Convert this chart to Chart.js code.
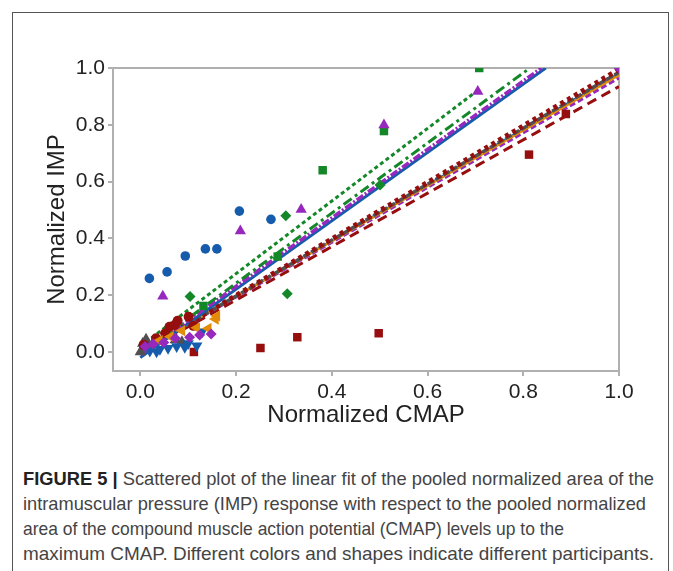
<!DOCTYPE html>
<html>
<head>
<meta charset="utf-8">
<script src="https://cdn.jsdelivr.net/npm/chart.js@4.4.0/dist/chart.umd.min.js"></script>
<style>
  body { margin: 0; background: #fff; width: 673px; height: 571px; overflow: hidden; position: relative; font-family: "Liberation Sans", Arial, sans-serif; }
  #frame { position: absolute; left: 12px; top: 12px; width: 657px; height: 600px; border: 1.5px solid #555; box-sizing: border-box; }
  #wrap { position: absolute; left: 0; top: 0; width: 673px; height: 440px; }
  #caption { position: absolute; left: 23px; top: 466px; font-size: 18.5px; line-height: 25px; color: #444; }
  #caption div { white-space: nowrap; transform-origin: 0 50%; width: max-content; }
  #caption b { color: #222; }
</style>
</head>
<body>
<div id="frame"></div>
<div id="wrap"><canvas id="chart" width="673" height="440"></canvas></div>
<div id="caption">
  <div data-w="631"><b>FIGURE 5 |</b> Scattered plot of the linear fit of the pooled normalized area of the</div>
  <div data-w="623">intramuscular pressure (IMP) response with respect to the pooled normalized</div>
  <div data-w="541">area of the compound muscle action potential (CMAP) levels up to the</div>
  <div data-w="631">maximum CMAP. Different colors and shapes indicate different participants.</div>
</div>
<script>
// tick labels
var xTicks = [0, 0.2, 0.4, 0.6, 0.8, 1.0];
var yTicks = [0, 0.2, 0.4, 0.6, 0.8, 1.0];

// participants
var blueCircX = [0.019, 0.056, 0.094, 0.136, 0.160, 0.207, 0.273];
var blueCircY = [0.259, 0.282, 0.338, 0.363, 0.363, 0.496, 0.467];
var purpleTriX = [0.047, 0.209, 0.336, 0.509, 0.705];
var purpleTriY = [0.196, 0.426, 0.502, 0.799, 0.917];
var greenSqX = [0.132, 0.287, 0.381, 0.509, 0.708];
var greenSqY = [0.162, 0.336, 0.640, 0.778, 1.0];
var greenDiaX = [0.104, 0.304, 0.307, 0.501];
var greenDiaY = [0.195, 0.480, 0.205, 0.588];
var redSqX = [0.112, 0.251, 0.328, 0.498, 0.812, 0.889];
var redSqY = [0.0, 0.014, 0.052, 0.066, 0.695, 0.838];
var redCircX = [0.007, 0.033, 0.052, 0.061, 0.072, 0.078, 0.101, 0.111];
var redCircY = [0.025, 0.048, 0.066, 0.089, 0.095, 0.110, 0.124, 0.092];
var orangeTriX = [0.040, 0.063, 0.087, 0.118, 0.142, 0.157, 0.160];
var orangeTriY = [0.040, 0.054, 0.075, 0.085, 0.083, 0.116, 0.127];
var purpleDiaX = [0.010, 0.027, 0.049, 0.073, 0.103, 0.124, 0.148, 1.0];
var purpleDiaY = [0.019, 0.028, 0.033, 0.048, 0.052, 0.060, 0.063, 1.0];
var grayTriX = [0.0, 0.005, 0.012, 0.018, 0.030, 0.073, 0.087];
var grayTriY = [0.0, 0.030, 0.045, 0.020, 0.040, 0.042, 0.036];
var blueDownX = [0.020, 0.034, 0.041, 0.058, 0.076, 0.093, 0.100, 0.118, 0.129];
var blueDownY = [0.003, 0.001, 0.010, 0.013, 0.019, 0.017, 0.030, 0.022, 0.071];

// linear fits (start and end points)
var fitGreenSqX = [0, 0.700],   fitGreenSqY = [0.020, 0.915];
var fitGreenDiaX = [0, 0.814],  fitGreenDiaY = [-0.005, 1.0];
var fitPurpleTriX = [0, 0.838], fitPurpleTriY = [-0.010, 1.0];
var fitBlueCircX = [0, 0.847],  fitBlueCircY = [-0.020, 1.0];
var fitRedCircX = [0, 1.0],     fitRedCircY = [0, 0.995];
var fitGrayX = [0, 1.0],        fitGrayY = [0, 0.985];
var fitOrangeX = [0, 1.0],      fitOrangeY = [0, 0.975];
var fitBlueDownX = [0, 1.0],    fitBlueDownY = [0, 0.980];
var fitPurpleDiaX = [0, 1.0],   fitPurpleDiaY = [0, 0.965];
var fitRedSqX = [0, 1.0],       fitRedSqY = [-0.005, 0.935];

var BLUE = 'rgb(22, 92, 172)';
var PURPLE = 'rgb(150, 40, 190)';
var GREEN = 'rgb(20, 135, 40)';
var RED = 'rgb(150, 14, 14)';
var ORANGE = 'rgb(226, 140, 10)';
var GRAY = 'rgb(80, 80, 80)';

function pts(xs, ys) {
  var out = [];
  for (var i = 0; i < xs.length; i++) out.push({x: xs[i], y: ys[i]});
  return out;
}

function markers(xs, ys, color, style, radius, rotation) {
  return {
    data: pts(xs, ys), showLine: false,
    pointStyle: style, pointRadius: radius, pointRotation: rotation || 0,
    pointBackgroundColor: color, pointBorderColor: color, pointBorderWidth: 0
  };
}

function fit(xs, ys, color, width, dash) {
  return {
    data: pts(xs, ys), showLine: true, pointRadius: 0,
    borderColor: color, borderWidth: width, borderDash: dash || [], fill: false
  };
}

// grey box round the plot area
var plotBox = {
  id: 'plotBox',
  beforeDatasetsDraw: function (chart) {
    var a = chart.chartArea, ctx = chart.ctx;
    ctx.save();
    ctx.strokeStyle = '#b0b0b0';
    ctx.lineWidth = 2;
    ctx.strokeRect(a.left, a.top, a.right - a.left, a.bottom - a.top);
    ctx.restore();
  }
};

var ctx = document.getElementById('chart');
var chart = new Chart(ctx, {
  type: 'scatter',
  data: {
    datasets: [
      markers(purpleDiaX, purpleDiaY, PURPLE, 'rectRot', 5.5),
      markers(orangeTriX, orangeTriY, ORANGE, 'triangle', 6.5, 270),
      markers(redCircX, redCircY, RED, 'circle', 5),
      markers(blueDownX, blueDownY, BLUE, 'triangle', 6.5, 180),
      markers(grayTriX, grayTriY, GRAY, 'triangle', 6.5),
      markers(redSqX, redSqY, RED, 'rect', 6),
      markers(blueCircX, blueCircY, BLUE, 'circle', 4.8),
      markers(purpleTriX, purpleTriY, PURPLE, 'triangle', 6.5),
      markers(greenSqX, greenSqY, GREEN, 'rect', 6),
      markers(greenDiaX, greenDiaY, GREEN, 'rectRot', 5.5),

      fit(fitGreenSqX, fitGreenSqY, GREEN, 3, [4, 3]),
      fit(fitGreenDiaX, fitGreenDiaY, GREEN, 3, [10, 4, 3, 4]),
      fit(fitPurpleTriX, fitPurpleTriY, PURPLE, 3.5, [8, 2, 2, 2]),
      fit(fitBlueCircX, fitBlueCircY, BLUE, 3),
      fit(fitRedCircX, fitRedCircY, RED, 5, [4, 4]),
      fit(fitGrayX, fitGrayY, GRAY, 3.5, [7, 2]),
      fit(fitOrangeX, fitOrangeY, ORANGE, 2.5),
      fit(fitBlueDownX, fitBlueDownY, BLUE, 2.5),
      fit(fitPurpleDiaX, fitPurpleDiaY, PURPLE, 3, [6, 3]),
      fit(fitRedSqX, fitRedSqY, RED, 3, [10, 6])
    ]
  },
  options: {
    responsive: false,
    animation: false,
    layout: { padding: { left: 43, top: 68, right: 54, bottom: 10 } },
    plugins: { legend: { display: false }, tooltip: { enabled: false } },
    scales: {
      x: {
        type: 'linear', min: -0.057, max: 1.0,
        afterBuildTicks: function (s) { s.ticks = xTicks.map(function (v) { return {value: v}; }); },
        afterFit: function (s) { s.height = 59; },
        border: { display: false },
        grid: { drawOnChartArea: false, drawTicks: true, tickLength: 5, color: '#b0b0b0', lineWidth: 2 },
        ticks: {
          color: '#222', padding: 4,
          font: { family: '"Liberation Sans", Arial, sans-serif', size: 21 },
          callback: function (v) { return v.toFixed(1); }
        },
        title: {
          display: true, text: 'Normalized CMAP', color: '#222', padding: 0,
          font: { family: '"Liberation Sans", Arial, sans-serif', size: 24 }
        }
      },
      y: {
        type: 'linear', min: -0.067, max: 1.0,
        afterBuildTicks: function (s) { s.ticks = yTicks.map(function (v) { return {value: v}; }); },
        afterFit: function (s) { s.width = 70; },
        border: { display: false },
        grid: { drawOnChartArea: false, drawTicks: true, tickLength: 5, color: '#b0b0b0', lineWidth: 2 },
        ticks: {
          color: '#222', padding: 3,
          font: { family: '"Liberation Sans", Arial, sans-serif', size: 21 },
          callback: function (v) { return v.toFixed(1); }
        },
        title: {
          display: true, text: 'Normalized IMP', color: '#222', padding: 0,
          font: { family: '"Liberation Sans", Arial, sans-serif', size: 24 }
        }
      }
    }
  },
  plugins: [plotBox]
});

// squeeze the caption lines to the width they have in the figure
var lines = document.querySelectorAll('#caption div');
for (var i = 0; i < lines.length; i++) {
  var w = lines[i].getBoundingClientRect().width;
  lines[i].style.transform = 'scaleX(' + (lines[i].getAttribute('data-w') / w) + ')';
}
</script>
</body>
</html>
